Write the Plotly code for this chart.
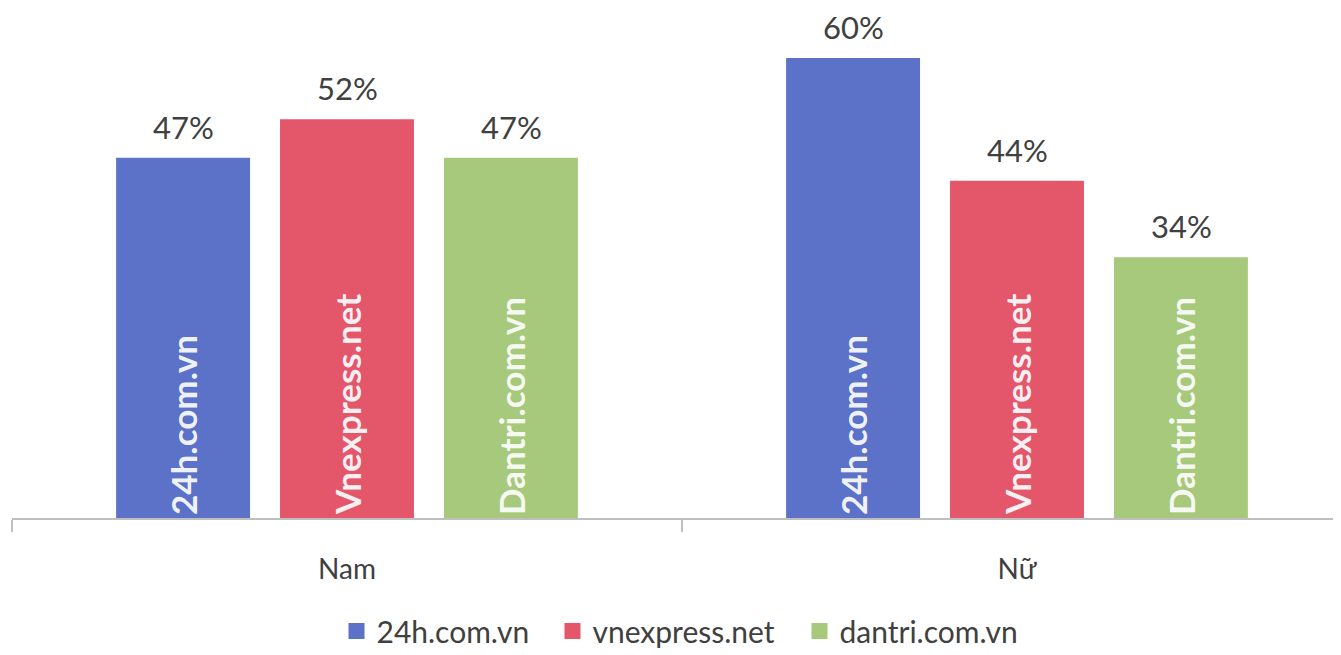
import plotly.graph_objects as go

categories = ["Nam", "Nữ"]
sites = ["24h.com.vn", "vnexpress.net", "dantri.com.vn"]
bar_labels = ["24h.com.vn", "Vnexpress.net", "Dantri.com.vn"]
values_24h = [47, 60]
values_vnexpress = [52, 44]
values_dantri = [47, 34]
colors = ["#5b72c8", "#e4566a", "#a7c97b"]

series = [values_24h, values_vnexpress, values_dantri]

# the page body adds an 8px margin on the left/top
OFF = 8
W, H = 1341 - OFF, 655 - OFF
ML = 12 - OFF
base_y = 518 - OFF            # axis baseline inside the figure
MB = H - base_y
cat_px = 670.0
plot_w = W - ML
plot_h = H - MB
px_per_pct = 7.667
slot_px = 164
legend_widths = [171, 202, 190]

FONT = "Lato"

fig = go.Figure()
for name, lab, vals, col in zip(sites, bar_labels, series, colors):
    fig.add_trace(go.Bar(
        x=categories, y=vals, name=name, showlegend=False,
        marker=dict(color=col, line=dict(width=0)),
        text=[lab] * len(categories),
        textposition="inside", insidetextanchor="start", textangle=-90,
        insidetextfont=dict(family=FONT, size=35, color="rgba(255,255,255,0.93)", weight="bold"),
        hoverinfo="skip",
    ))

# legend entries (square swatches)
for name, col, lw in zip(sites, colors, legend_widths):
    fig.add_trace(go.Scatter(
        x=[None], y=[None], mode="markers", name=name,
        marker=dict(symbol="square", size=16, color=col),
        legendwidth=lw, hoverinfo="skip",
    ))

annotations = []
for j, vals in enumerate(series):
    for k, v in enumerate(vals):
        annotations.append(dict(
            x=categories[k], y=v, xref="x", yref="y",
            text=f"{v}%", showarrow=False,
            xshift=(j - 1) * slot_px, yshift=31, yanchor="middle",
            font=dict(family=FONT, size=31, color="#404040"),
        ))

legend_center = 631 - OFF
fig.update_layout(
    width=W, height=H,
    margin=dict(l=ML, r=0, t=0, b=MB, pad=0, autoexpand=False),
    paper_bgcolor="white", plot_bgcolor="white",
    barmode="group", bargap=0.266, bargroupgap=0.183,
    showlegend=True,
    legend=dict(orientation="h", x=0.5 + 9 / plot_w, xanchor="center",
                y=-(legend_center - plot_h) / plot_h, yanchor="middle",
                font=dict(family=FONT, size=30, color="#404040"), itemwidth=30,
                tracegroupgap=0),
    annotations=annotations,
    xaxis=dict(
        range=[-0.5, -0.5 + plot_w / cat_px],
        showline=True, linecolor="#bfbfbf", linewidth=1.5,
        ticks="outside", tickson="boundaries", ticklen=12, tickcolor="#bfbfbf", tickwidth=1.5,
        tickfont=dict(family=FONT, size=28, color="#404040"),
        ticklabelstandoff=26,
        showgrid=False, zeroline=False,
    ),
    yaxis=dict(visible=False, range=[0, plot_h / px_per_pct], showgrid=False, zeroline=False),
)

fig.write_html("out.html")
